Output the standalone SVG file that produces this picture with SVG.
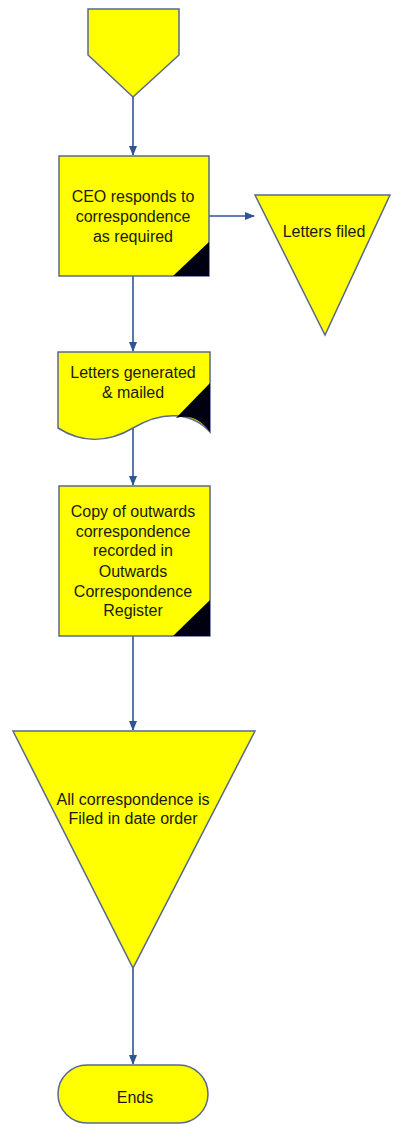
<svg xmlns="http://www.w3.org/2000/svg" width="395" height="1127" viewBox="0 0 395 1127">
<style>
.shape{fill:#ffff00;stroke:#5a6890;stroke-width:1.5}
.corner{fill:#000010}
.conn{stroke:#2f5597;stroke-width:1.6;fill:none}
text{font-family:"Liberation Sans",Arial,sans-serif;font-size:16px;fill:#1a1a10;text-anchor:middle}
</style>
<defs>
<marker id="ah" markerWidth="10" markerHeight="8" refX="9" refY="4" orient="auto" markerUnits="userSpaceOnUse">
<path d="M0,0 L10,4 L0,8 Z" fill="#2f5597"/>
</marker>
</defs>
<g id="connectors">
<line class="conn" x1="133" y1="97" x2="133" y2="155" marker-end="url(#ah)"/>
<line class="conn" x1="209" y1="216" x2="254" y2="216" marker-end="url(#ah)"/>
<line class="conn" x1="133" y1="276" x2="133" y2="351" marker-end="url(#ah)"/>
<line class="conn" x1="133" y1="428" x2="133" y2="485" marker-end="url(#ah)"/>
<line class="conn" x1="133" y1="636" x2="133" y2="730" marker-end="url(#ah)"/>
<line class="conn" x1="133" y1="968" x2="133" y2="1064" marker-end="url(#ah)"/>
</g>
<g id="start">
<polygon class="shape" points="88,9 179,9 179,55 133,97 88,55"/>
</g>
<g id="ceo">
<rect class="shape" x="59" y="156" width="150" height="120"/>
<polygon class="corner" points="173,276 209,276 209,242"/>
<text x="133" y="202">CEO responds to</text>
<text x="133" y="222">correspondence</text>
<text x="133" y="242">as required</text>
</g>
<g id="letters-filed">
<polygon class="shape" points="255,195 390,195 325,335"/>
<text x="324" y="237">Letters filed</text>
</g>
<g id="letters-generated">
<path class="shape" d="M58,352 H210 V432 C190,410 160,412 133,428 C106,444 80,442 58,428 Z"/>
<path class="corner" d="M210,383 L176,418 C190,414 201,420 210,432 Z"/>
<text x="133" y="378">Letters generated</text>
<text x="133" y="398">&amp; mailed</text>
</g>
<g id="copy-outwards">
<rect class="shape" x="59" y="486" width="151" height="150"/>
<polygon class="corner" points="173,636 210,636 210,600"/>
<text x="133" y="517">Copy of outwards</text>
<text x="133" y="537">correspondence</text>
<text x="133" y="556">recorded in</text>
<text x="133" y="577">Outwards</text>
<text x="133" y="597">Correspondence</text>
<text x="133" y="616">Register</text>
</g>
<g id="filed-date">
<polygon class="shape" points="13,731 255,731 133,968"/>
<text x="133" y="805">All correspondence is</text>
<text x="133" y="824">Filed in date order</text>
</g>
<g id="ends">
<rect class="shape" x="58" y="1065" width="150" height="58" rx="29" ry="29"/>
<text x="135" y="1103">Ends</text>
</g>
</svg>
